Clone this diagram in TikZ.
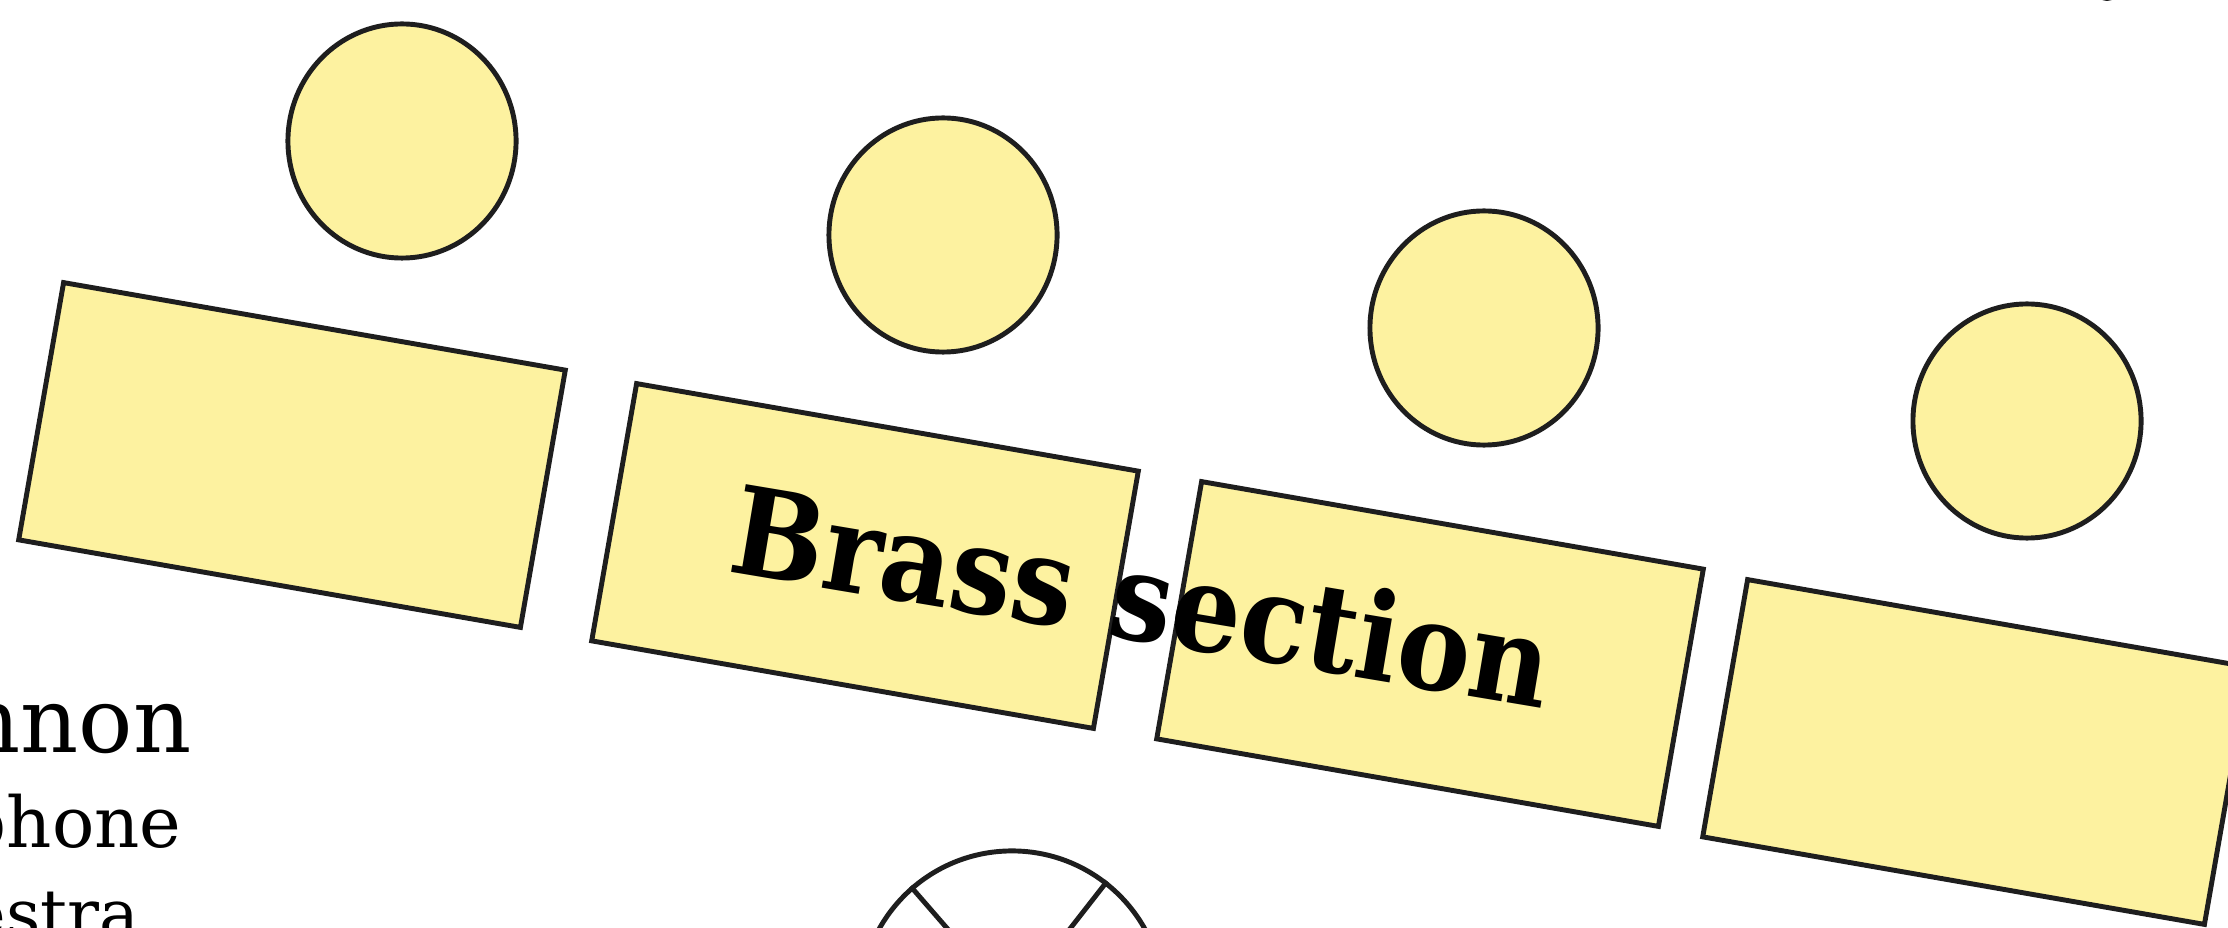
\documentclass[tikz,border=0pt]{standalone}
\usepackage{fontspec}
\setmainfont{DejaVu Serif}
\newfontfamily\brassfont[FakeStretch=0.9]{DejaVu Serif}
\usetikzlibrary{shapes.geometric}
\definecolor{seatfill}{HTML}{FDF2A0}
\definecolor{seatline}{HTML}{1E1E1E}

\begin{document}
\begin{tikzpicture}[x=0.01cm,y=-0.01cm,
  seat/.style={draw=seatline,fill=seatfill,line width=1.4pt,inner sep=0pt},
  desk/.style={seat,rectangle,rotate=-9.9,minimum width=5.09cm,minimum height=2.61cm},
  player/.style={seat,ellipse,minimum width=2.28cm,minimum height=2.34cm},
  legend/.style={anchor=base east,inner sep=0pt}]
  \useasboundingbox (0,0) rectangle (2228,928);
  \clip (0,0) rectangle (2228,928);
  % desks
  \node[desk] (desk1) at (292,455) {};
  \node[desk] (desk2) at (865,556) {};
  \node[desk] (desk3) at (1430,654) {};
  \node[desk] (desk4) at (1976,752) {};
  % players
  \node[player] (player1) at (402,141) {};
  \node[player] (player2) at (943,235) {};
  \node[player] (player3) at (1484,328) {};
  \node[player] (player4) at (2027,421) {};
  % conductor
  \node[draw=seatline,line width=1.4pt,circle,minimum size=3.04cm] (conductor) at (1012,1003) {};
  \draw[seatline,line width=1.4pt] (conductor.131.8) -- (conductor.311.8);
  \draw[seatline,line width=1.4pt] (conductor.52.7) -- (conductor.232.7);
  \fill[seatline] (2107,-9) ellipse (11 and 10);
  % legend
  \node[legend,font=\fontsize{25.7pt}{30pt}\selectfont] (cannon) at (192,752) {nnon};
  \node[legend,font=\fontsize{20pt}{24pt}\selectfont] (phone) at (182,847) {phone};
  \node[legend,font=\fontsize{19pt}{23pt}\selectfont] (orch) at (140,937) {estra};
  \node[anchor=base,rotate=-9.5,inner sep=0pt,font=\brassfont\bfseries\fontsize{34.7pt}{40pt}\selectfont] (brass) at (1135,640) {Brass section};
\end{tikzpicture}
\end{document}
